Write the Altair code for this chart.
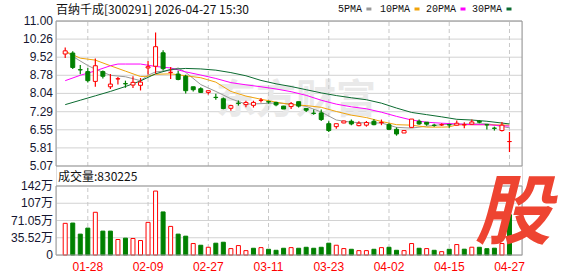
import altair as alt
import pandas as pd

# ---------------- data ----------------
title_text = "百纳千成[300291] 2026-04-27 15:30"
vol_text = "成交量:830225"
watermark_text = "东方财富"
logo_text = "股"

bar_idx = list(range(1, 61))
opens = [9.65, 9.69, 9.01, 8.93, 8.53, 8.93, 8.31, 8.63, 8.44, 8.38,
         8.37, 9.08, 9.15, 9.70, 8.90, 8.83, 8.74, 8.31, 8.23, 8.08,
         7.88, 7.82, 7.43, 7.64, 7.58, 7.55, 7.75, 7.70, 7.67, 7.52,
         7.50, 7.70, 7.42, 7.23, 7.24, 6.80, 6.68, 6.83, 6.90, 6.72,
         6.74, 6.90, 6.84, 6.76, 6.57, 6.42, 6.65, 6.90, 6.86, 6.74,
         6.75, 6.76, 6.74, 6.75, 6.78, 6.90, 6.76, 6.62, 6.52, 6.07]
highs = [9.92, 9.76, 9.20, 9.08, 9.47, 8.98, 8.83, 8.71, 8.56, 8.74,
         8.67, 9.36, 10.53, 9.80, 9.12, 8.97, 8.80, 8.31, 8.29, 8.16,
         8.02, 7.87, 7.58, 7.75, 7.74, 7.74, 7.85, 7.74, 7.70, 7.53,
         7.69, 7.70, 7.44, 7.38, 7.38, 6.90, 6.80, 6.92, 6.97, 6.90,
         6.91, 6.98, 6.97, 6.82, 6.65, 6.52, 6.99, 6.97, 6.86, 6.80,
         6.82, 6.80, 6.93, 6.86, 6.97, 6.95, 6.77, 6.68, 6.87, 6.46]
lows = [9.49, 9.04, 8.82, 8.48, 8.31, 8.65, 8.22, 8.40, 8.27, 8.26,
        8.16, 8.81, 8.85, 8.98, 8.63, 8.58, 8.04, 8.12, 8.06, 7.99,
        7.78, 7.39, 7.33, 7.54, 7.47, 7.46, 7.67, 7.62, 7.51, 7.40,
        7.40, 7.46, 7.28, 7.17, 6.91, 6.46, 6.59, 6.82, 6.74, 6.70,
        6.68, 6.74, 6.74, 6.55, 6.31, 6.42, 6.64, 6.76, 6.72, 6.68,
        6.71, 6.63, 6.73, 6.61, 6.77, 6.82, 6.56, 6.52, 6.48, 5.64]
closes = [9.78, 9.10, 9.00, 8.56, 9.17, 8.74, 8.42, 8.64, 8.43, 8.49,
          8.50, 9.13, 9.95, 9.05, 8.90, 8.61, 8.15, 8.19, 8.08, 8.15,
          7.87, 7.42, 7.54, 7.63, 7.67, 7.67, 7.76, 7.69, 7.57, 7.40,
          7.62, 7.52, 7.35, 7.22, 6.97, 6.52, 6.80, 6.91, 6.79, 6.82,
          6.85, 6.76, 6.85, 6.57, 6.38, 6.52, 6.99, 6.79, 6.78, 6.73,
          6.76, 6.75, 6.82, 6.76, 6.87, 6.86, 6.75, 6.61, 6.74, 6.07]

# volume in 万 shares, and its colour (1 = red/up, 0 = green/down)
volumes = [65.2, 65.8, 43.0, 55.4, 88.0, 49.2, 49.2, 31.9, 34.7, 34.0,
           29.8, 67.2, 131.7, 88.7, 58.9, 43.0, 38.8, 23.6, 20.1, 15.9,
           24.3, 26.3, 13.2, 19.4, 9.0, 13.9, 15.2, 11.8, 9.7, 13.9,
           15.2, 13.9, 15.9, 13.9, 15.9, 24.3, 20.1, 13.2, 11.8, 9.0,
           9.0, 11.8, 15.2, 15.9, 9.7, 9.0, 23.6, 13.9, 13.2, 9.7,
           6.9, 11.8, 21.5, 12.0, 16.0, 15.9, 13.0, 14.0, 23.6, 83.0]
vol_up = [1, 0, 0, 0, 1, 0, 0, 1, 0, 1,
          1, 1, 1, 0, 1, 0, 0, 1, 0, 1,
          0, 0, 1, 1, 1, 0, 1, 0, 0, 0,
          1, 0, 0, 0, 0, 0, 1, 1, 0, 1,
          1, 0, 1, 0, 0, 1, 1, 0, 1, 0,
          1, 0, 1, 0, 1, 0, 0, 0, 1, 0]

ma5_idx = [1, 2, 4, 5, 7, 9, 11, 12, 13, 15, 16, 17, 19, 21, 23, 25, 27, 29, 31,
           33, 35, 37, 39, 41, 43, 45, 47, 49, 51, 53, 55, 57, 60]
ma5_val = [9.78, 9.55, 9.18, 9.03, 8.78, 8.72, 8.56, 8.78, 8.92, 8.98, 9.08, 8.90,
           8.40, 8.12, 7.82, 7.60, 7.62, 7.65, 7.61, 7.51, 7.28, 6.95, 6.86, 6.83,
           6.83, 6.65, 6.62, 6.70, 6.76, 6.78, 6.79, 6.80, 6.63]
ma10_idx = [1, 3, 5, 7, 9, 11, 12, 13, 15, 17, 19, 21, 23, 25, 27, 29, 31, 33, 35,
            37, 39, 41, 43, 45, 47, 49, 51, 52, 53, 55, 57, 60]
ma10_val = [9.76, 9.48, 9.40, 9.17, 8.95, 8.73, 8.74, 8.82, 8.84, 8.76, 8.68, 8.50,
            8.12, 7.93, 7.80, 7.68, 7.58, 7.54, 7.47, 7.30, 7.15, 7.05, 6.89, 6.76,
            6.74, 6.66, 6.66, 6.67, 6.75, 6.76, 6.76, 6.74]
ma20_idx = [1, 3, 5, 7, 8, 9, 11, 13, 15, 17, 19, 21, 23, 25, 27, 29, 31, 33, 35,
            37, 39, 41, 43, 45, 47, 49, 51, 53, 55, 57, 60]
ma20_val = [8.56, 8.78, 8.96, 9.17, 9.24, 9.24, 9.24, 9.14, 9.08, 8.92, 8.79, 8.65,
            8.48, 8.39, 8.31, 8.22, 8.11, 7.96, 7.76, 7.60, 7.49, 7.41, 7.27, 7.10,
            6.95, 6.86, 6.82, 6.79, 6.76, 6.76, 6.70]
ma30_idx = [1, 3, 5, 7, 9, 11, 13, 15, 17, 19, 21, 23, 25, 27, 29, 31, 33, 35, 37,
            39, 41, 43, 45, 47, 49, 51, 53, 55, 57, 60]
ma30_val = [7.58, 7.76, 7.94, 8.12, 8.32, 8.55, 8.84, 9.02, 9.06, 9.04, 8.99, 8.89,
            8.76, 8.57, 8.43, 8.32, 8.19, 8.06, 7.95, 7.86, 7.78, 7.64, 7.44, 7.26,
            7.17, 7.08, 6.98, 6.95, 6.90, 6.79]

ma_names = ["5PMA", "10PMA", "20PMA", "30PMA"]
ma_colors = ["#999999", "#f0a30a", "#ff00ff", "#0b6b30"]

date_idx = [4, 12, 20, 28, 36, 44, 52, 60]
date_labels = ["01-28", "02-09", "02-27", "03-11", "03-23", "04-02", "04-15", "04-27"]

price_ticks = [5.07, 5.81, 6.55, 7.29, 8.04, 8.78, 9.52, 10.26, 11.00]
vol_ticks = [0, 35.52, 71.05, 106.57, 142.1]
vol_tick_labels = ["0", "35.52万", "71.05万", "107万", "142万"]

# ---------------- layout ----------------
W, H = 466, 234
PH = 145            # price panel bottom (px from top of plot area)
VT, VB = 165, 234   # volume panel top / bottom
RED, GREEN = "#ff0000", "#008000"
GRID = "#d2d2d2"
BORDER = "#999999"
LABEL = "#151530"
NUM_FONT = "Liberation Sans"
CJK_FONT = "Noto Sans CJK SC"

candles = pd.DataFrame({"idx": bar_idx, "open": opens, "high": highs,
                        "low": lows, "close": closes})
candles["dir"] = ["up" if c >= o else "down" for o, c in zip(opens, closes)]
vols = pd.DataFrame({"idx": bar_idx, "vol": volumes,
                     "dir": ["up" if u else "down" for u in vol_up]})
ma_rows = []
for name, ids, vals in zip(ma_names, [ma5_idx, ma10_idx, ma20_idx, ma30_idx],
                           [ma5_val, ma10_val, ma20_val, ma30_val]):
    for i, v in zip(ids, vals):
        ma_rows.append({"series": name, "idx": i, "value": v})
ma_df = pd.DataFrame(ma_rows)
dates = pd.DataFrame({"idx": date_idx, "label": date_labels,
                      "plo": price_ticks[0], "phi": price_ticks[-1],
                      "vlo": vol_ticks[0], "vhi": vol_ticks[-1]})
pticks = pd.DataFrame({"v": price_ticks, "label": [f"{t:.2f}" for t in price_ticks]})
vticks = pd.DataFrame({"v": vol_ticks, "label": vol_tick_labels})

xs = alt.Scale(domain=[0.44, 61.0], nice=False, zero=False)
ps = alt.Scale(domain=[price_ticks[0], price_ticks[-1]], range=[PH, 0], nice=False, zero=False)
vs = alt.Scale(domain=[vol_ticks[0], vol_ticks[-1]], range=[VB, VT], nice=False, zero=False)
dir_stroke = alt.Scale(domain=["up", "down"], range=[RED, GREEN])
dir_fill = alt.Scale(domain=["up", "down"], range=["#ffffff", GREEN])

one = pd.DataFrame({"a": [0]})

# ---------------- price panel ----------------
watermark = alt.Chart(one).mark_text(
    text=watermark_text, font=CJK_FONT, fontSize=40, fontWeight="bold",
    color="#e9e9e9", align="center", baseline="middle"
).encode(x=alt.value(240), y=alt.value(80))

price_hgrid = alt.Chart(pticks).mark_rule(color=GRID, strokeWidth=1).encode(
    x=alt.value(0), x2=alt.value(W),
    y=alt.Y("v:Q", scale=ps, axis=None),
)
price_labels = alt.Chart(pticks).mark_text(
    font=NUM_FONT, fontSize=12, color=LABEL, align="right", baseline="middle"
).encode(
    x=alt.value(-3),
    y=alt.Y("v:Q", scale=ps, axis=None),
    text="label:N",
)

price_vgrid = alt.Chart(dates).mark_rule(color="#c8c8c8", strokeDash=[4, 3], strokeWidth=1).encode(
    x=alt.X("idx:Q", scale=xs, axis=None),
    y=alt.Y("plo:Q", scale=ps, axis=None),
    y2="phi:Q",
)

wicks = alt.Chart(candles).mark_rule(strokeWidth=1.2).encode(
    x=alt.X("idx:Q", scale=xs, axis=None),
    y=alt.Y("low:Q", scale=ps, axis=None),
    y2="high:Q",
    stroke=alt.Stroke("dir:N", scale=dir_stroke, legend=None),
)

bodies = alt.Chart(candles).mark_bar(size=4, strokeWidth=1).encode(
    x=alt.X("idx:Q", scale=xs, axis=None),
    y=alt.Y("open:Q", scale=ps, axis=None),
    y2="close:Q",
    fill=alt.Fill("dir:N", scale=dir_fill, legend=None),
    stroke=alt.Stroke("dir:N", scale=dir_stroke, legend=None),
)

ma_lines = alt.Chart(ma_df).mark_line(strokeWidth=1).encode(
    x=alt.X("idx:Q", scale=xs, axis=None),
    y=alt.Y("value:Q", scale=ps, axis=None),
    color=alt.Color("series:N", scale=alt.Scale(domain=ma_names, range=ma_colors), legend=None),
    detail="series:N",
)

price_panel = alt.layer(price_hgrid, watermark, price_vgrid, price_labels, ma_lines, wicks, bodies)

# ---------------- volume panel ----------------
vol_hgrid = alt.Chart(vticks).mark_rule(color=GRID, strokeWidth=1).encode(
    x=alt.value(0), x2=alt.value(W),
    y=alt.Y("v:Q", scale=vs, axis=None),
)
vol_labels = alt.Chart(vticks).mark_text(
    font=NUM_FONT + ", " + CJK_FONT, fontSize=12, color=LABEL, align="right", baseline="middle"
).encode(
    x=alt.value(-3),
    y=alt.Y("v:Q", scale=vs, axis=None),
    text="label:N",
)
vol_vgrid = alt.Chart(dates).mark_rule(color="#c8c8c8", strokeDash=[4, 3], strokeWidth=1).encode(
    x=alt.X("idx:Q", scale=xs, axis=None),
    y=alt.Y("vlo:Q", scale=vs, axis=None),
    y2="vhi:Q",
)
date_text = alt.Chart(dates).mark_text(
    font=NUM_FONT, fontSize=12, color=RED, align="center", baseline="middle"
).encode(
    x=alt.X("idx:Q", scale=xs, axis=None),
    y=alt.value(VB + 12),
    text="label:N",
)

vol_bars = alt.Chart(vols).mark_bar(size=4, strokeWidth=1).encode(
    x=alt.X("idx:Q", scale=xs, axis=None),
    y=alt.Y("vol:Q", scale=vs, axis=None),
    fill=alt.Fill("dir:N", scale=dir_fill, legend=None),
    stroke=alt.Stroke("dir:N", scale=dir_stroke, legend=None),
)

vol_panel = alt.layer(vol_hgrid, vol_vgrid, vol_labels, vol_bars)

# ---------------- annotations ----------------
ann = []
ann.append(alt.Chart(one).mark_rect(fill="transparent", stroke=BORDER, strokeWidth=1).encode(
    x=alt.value(0), x2=alt.value(W), y=alt.value(0), y2=alt.value(PH)))
ann.append(alt.Chart(one).mark_rect(fill="transparent", stroke=BORDER, strokeWidth=1).encode(
    x=alt.value(0), x2=alt.value(W), y=alt.value(VT), y2=alt.value(VB)))
ann.append(alt.Chart(one).mark_text(
    text=title_text, font=CJK_FONT, fontSize=12, color="#111111", align="left", baseline="middle"
).encode(x=alt.value(0), y=alt.value(-11)))
ann.append(alt.Chart(one).mark_text(
    text=vol_text, font=CJK_FONT, fontSize=12, color="#111111", align="left", baseline="middle"
).encode(x=alt.value(2), y=alt.value(156)))
legend_x = [282, 324, 370, 416]
for name, col, lx in zip(ma_names, ma_colors, legend_x):
    ann.append(alt.Chart(one).mark_text(
        text=name, font="Liberation Mono", fontSize=10, color="#111111",
        align="left", baseline="middle"
    ).encode(x=alt.value(lx), y=alt.value(-12)))
    sx = lx + 6.1 * len(name) + 4
    ann.append(alt.Chart(one).mark_rect(fill=col).encode(
        x=alt.value(sx), x2=alt.value(sx + 5), y=alt.value(-13.5), y2=alt.value(-10.5)))
ann.append(alt.Chart(one).mark_text(
    text=logo_text, font=CJK_FONT, fontSize=76, fontWeight="bold", fontStyle="italic",
    color="#ee4431", align="center", baseline="middle"
).encode(x=alt.value(457), y=alt.value(194)))

chart = alt.layer(price_panel, vol_panel, *ann, date_text).resolve_scale(
    y="independent", stroke="independent", fill="independent"
).properties(
    width=W, height=H,
    autosize=alt.AutoSizeParams(type="none"),
    padding={"left": 56, "top": 21, "right": 56, "bottom": 21},
).configure_view(stroke=None).configure(background="#ffffff")

chart.save("out.html", embed_options={"renderer": "svg", "actions": False})
